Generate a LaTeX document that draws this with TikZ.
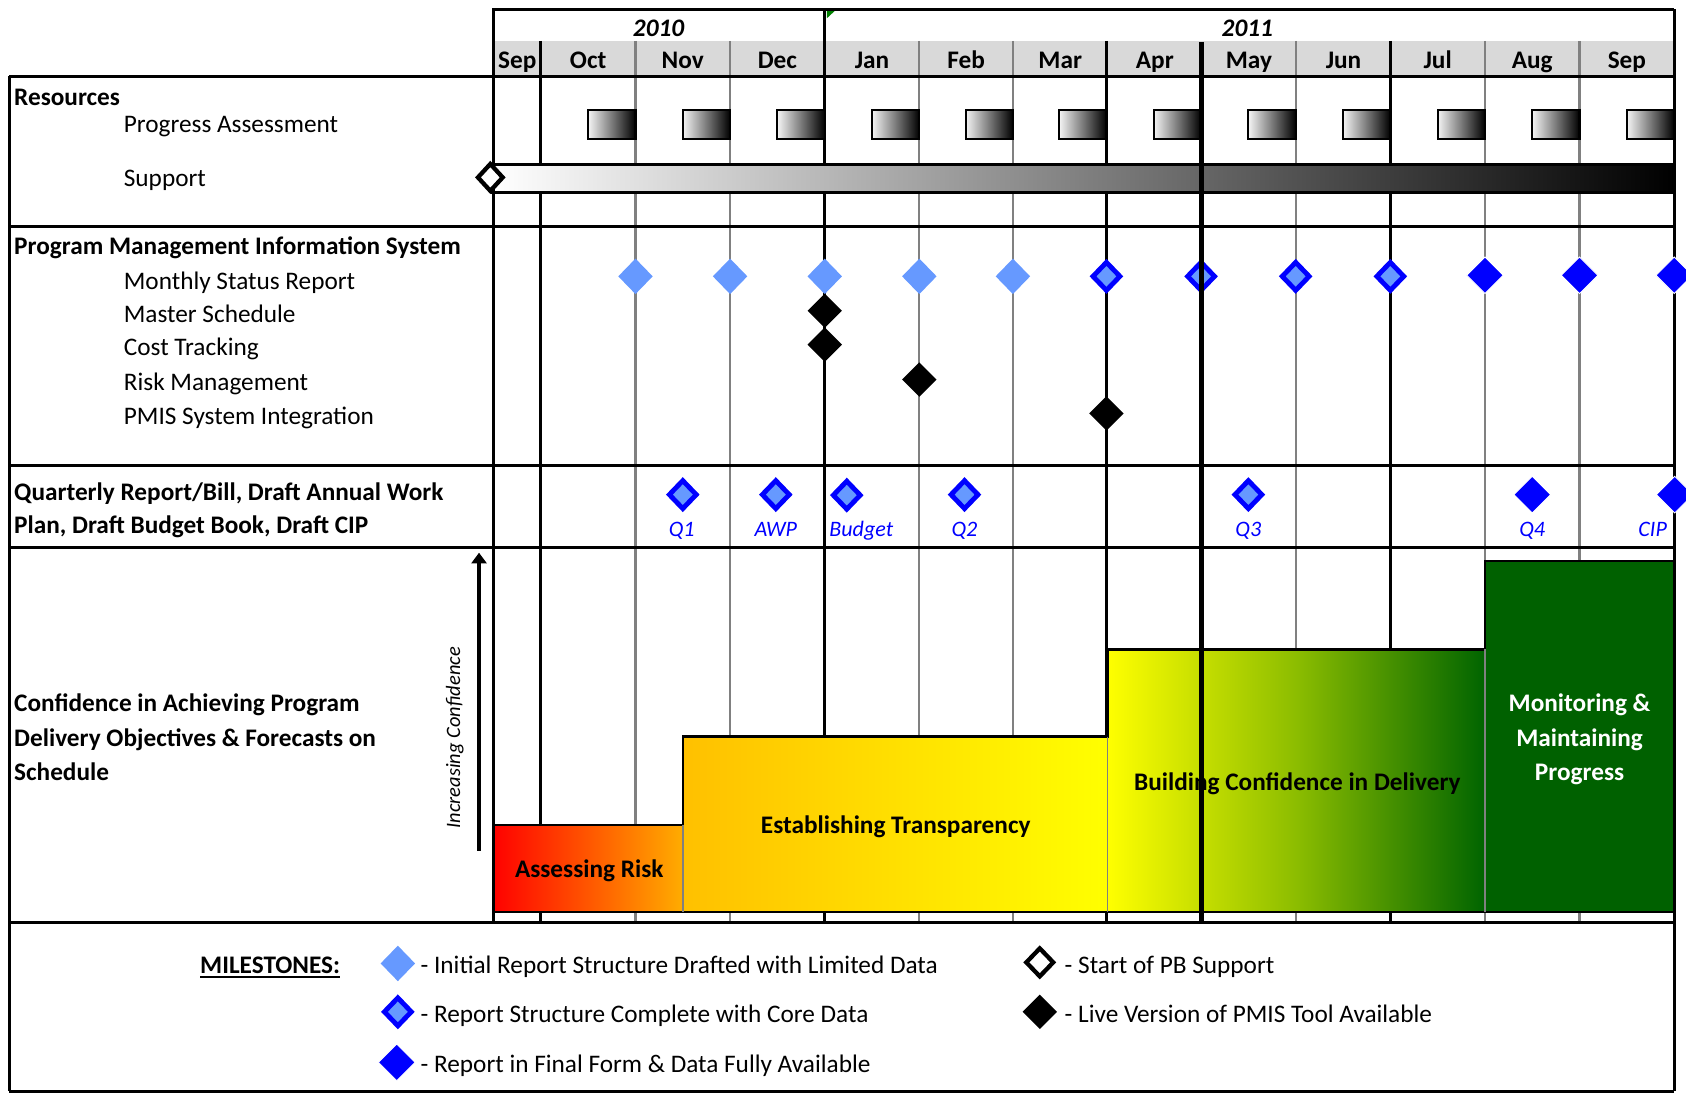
\documentclass[tikz,border=0pt]{standalone}
\usepackage{fontspec}
\setmainfont{Carlito}
\usetikzlibrary{shapes.geometric,arrows.meta}

\definecolor{hdrgray}{HTML}{D9D9D9}
\definecolor{gridgray}{HTML}{808080}
\definecolor{lightblue}{HTML}{6699FF}
\definecolor{mblue}{HTML}{0000FF}
\definecolor{dkgreen}{RGB}{0,97,0}
\definecolor{midgreen}{RGB}{0,100,0}
\definecolor{barlight}{HTML}{F4F4F4}
\definecolor{riskred}{RGB}{255,0,0}
\definecolor{riskorange}{RGB}{255,172,0}
\definecolor{transamber}{RGB}{255,192,0}
\definecolor{transyellow}{RGB}{255,255,0}
\definecolor{commentgreen}{RGB}{0,128,0}

\newcommand{\fszA}{\fontsize{23.5pt}{28pt}\selectfont}
\newcommand{\fszQ}{\fontsize{20.5pt}{24pt}\selectfont}
\newcommand{\fszI}{\fontsize{19pt}{22pt}\selectfont}

\tikzset{
  thickln/.style={line width=2.8pt, draw=black},
  gridln/.style={line width=2pt, draw=gridgray},
  todayln/.style={line width=5pt, draw=black},
  dia/.style={diamond, aspect=1, inner sep=0pt, outer sep=0pt},
  msA/.style={dia, fill=lightblue, minimum width=32pt, minimum height=33pt},
  msB/.style={dia, fill=lightblue, draw=mblue, line width=4.5pt, minimum width=25pt, minimum height=26pt},
  msC/.style={dia, fill=mblue, draw=white, line width=0.8pt, minimum width=34pt, minimum height=34pt},
  msK/.style={dia, fill=black, minimum width=32pt, minimum height=32pt},
  msW/.style={dia, fill=white, draw=black, line width=4pt, minimum width=23pt, minimum height=25pt},
  lbl/.style={font=\fszA, anchor=base west, inner sep=0pt},
  hd/.style={font=\fszA\bfseries, anchor=base west, inner sep=0pt},
  mon/.style={font=\fszA\bfseries, anchor=base, inner sep=0pt},
  yr/.style={font=\fszA\bfseries\itshape, anchor=base, inner sep=0pt},
  qlbl/.style={font=\fszQ\itshape, text=mblue, anchor=base, inner sep=0pt},
  pbar/.style={rectangle, draw=black, line width=2pt, left color=barlight, right color=black, inner sep=0pt, outer sep=0pt},
  phase/.style={rectangle, inner sep=0pt, outer sep=0pt, anchor=south west},
  phaselbl/.style={font=\fszA\bfseries, anchor=base, inner sep=0pt},
}

\begin{document}
\begin{tikzpicture}[x=1pt,y=-1pt]
\useasboundingbox[fill=white] (0,0) rectangle (1568,1017);

% month header background
\fill[hdrgray] (458,38) rectangle (1557,70.7);

% grid lines
\foreach \x in {591,679,855,942,1205,1381,1469}
  \draw[gridln] (\x,38) -- (\x,858);
\foreach \x in {503,1029,1293}
  \draw[thickln] (\x,38) -- (\x,858);
\draw[thickln] (767,8.7) -- (767,858);

% comment marker
\fill[commentgreen] (769,10) -- (776.5,10) -- (769,17) -- cycle;

% progress assessment bars
\foreach \x [count=\i] in {591,679,767,855,942,1029,1117,1205,1293,1381,1469,1557}
  \node[pbar, anchor=north east, minimum width=44pt, minimum height=27pt] (pb\i) at (\x,102.5) {};

% support bar
\node[pbar, anchor=north west, minimum width=1099pt, minimum height=26pt, left color=white] (supbar) at (458,153) {};

% phase boxes
\node[phase, left color=riskred, right color=riskorange, minimum width=177pt, minimum height=81pt] (riskbox) at (458,848) {};
\node[phase, left color=transamber, right color=transyellow, minimum width=395pt, minimum height=163pt] (transbox) at (635,848) {};
\node[phase, left color=transyellow, right color=midgreen, middle color={rgb,255:red,140;green,189;blue,0}, minimum width=351pt, minimum height=244pt] (buildbox) at (1030,848) {};
\node[phase, fill=dkgreen, minimum width=176pt, minimum height=326pt] (monbox) at (1381,848) {};

\draw[line width=2pt] (riskbox.north west) -- (riskbox.north east) -- (transbox.north west) -- (transbox.north east) -- (buildbox.north west) -- (buildbox.north east) -- (monbox.north west) -- (monbox.north east);
\draw[line width=2pt] (riskbox.south west) -- (monbox.south east);
\draw[gridgray, line width=1.5pt] (riskbox.north east) -- (riskbox.south east);
\draw[gridgray, line width=1.5pt] (transbox.north east) -- (transbox.south east);
\draw[gridgray, line width=1.5pt] (buildbox.north east) -- (buildbox.south east);

% phase labels
\node[phaselbl] (risklbl) at (548,816.5) {Assessing Risk};
\node[phaselbl] (translbl) at (833,775) {Establishing Transparency};
\node[phaselbl] (buildlbl) at (1206.5,735) {Building Confidence in Delivery};
\node[phaselbl, text=white] (monlbl1) at (1469,662) {Monitoring \&};
\node[phaselbl, text=white] (monlbl2) at (1469,694) {Maintaining};
\node[phaselbl, text=white] (monlbl3) at (1469,726) {Progress};

% frame lines
\draw[thickln] (458,8.7) -- (1557,8.7);
\foreach \y in {71,210.5,432.5,509.5,858}
  \draw[thickln] (8.7,\y) -- (1557,\y);
\draw[thickln] (8.7,1015) -- (1557,1015);
\draw[thickln] (8.7,71) -- (8.7,1015);
\draw[thickln] (458.5,8.7) -- (458.5,858);
\draw[thickln] (1557,8.7) -- (1557,1015);

% support start
\node[msW] (supstart) at (456,165) {};

% monthly status report diamonds
\foreach \x [count=\i] in {591,679,767,855,942}
  \node[msA] (msrA\i) at (\x,257) {};
\foreach \x [count=\i] in {1029,1117,1205,1293}
  \node[msB] (msrB\i) at (\x,257) {};
\foreach \x [count=\i] in {1381,1469,1557}
  \node[msC] (msrC\i) at (\x,256) {};

% PMIS tool diamonds
\node[msK] (dmsch) at (767,289) {};
\node[msK] (dct) at (767,320.5) {};
\node[msK] (drm) at (855,353) {};
\node[msK] (dpsi) at (1029,384.5) {};

% quarterly diamonds and labels
\node[msB] (dq1) at (635,460) {};
\node[msB] (dawp) at (721.5,460) {};
\node[msB] (dbud) at (787.5,460.5) {};
\node[msB] (dq2) at (897,460) {};
\node[msB] (dq3) at (1161,460) {};
\node[msC] (dq4) at (1425,460) {};
\node[msC] (dcip) at (1557.5,460) {};
\node[qlbl] (lq1) at (634,499) {Q1};
\node[qlbl] (lawp) at (721.5,499) {AWP};
\node[qlbl] (lbud) at (801,499) {Budget};
\node[qlbl] (lq2) at (897,499) {Q2};
\node[qlbl] (lq3) at (1161,499) {Q3};
\node[qlbl] (lq4) at (1425,499) {Q4};
\node[qlbl] (lcip) at (1537,499) {CIP};

% header labels
\node[yr] (y2010) at (612.5,33.5) {2010};
\node[yr] (y2011) at (1160,33.5) {2011};
\foreach \x/\m/\n in {481/Sep/mo0,547/Oct/mo1,635/Nov/mo2,723/Dec/mo3,811/Jan/mo4,898.5/Feb/mo5,986/Mar/mo6,1074/Apr/mo7,1161.5/May/mo8,1249.5/Jun/mo9,1337/Jul/mo10,1425/Aug/mo11,1513/Sep/mo12}
  \node[mon] (\n) at (\x,64) {\m};

% left column labels
\node[hd] (res) at (13,98) {Resources};
\node[lbl] (pa) at (115,123.5) {Progress Assessment};
\node[lbl] (sup) at (115,173.5) {Support};
\node[hd] (pmis) at (13,237) {Program Management Information System};
\node[lbl] (msr) at (115,269) {Monthly Status Report};
\node[lbl] (msch) at (115,300) {Master Schedule};
\node[lbl] (ct) at (115,331) {Cost Tracking};
\node[lbl] (rm) at (115,363) {Risk Management};
\node[lbl] (psi) at (115,395) {PMIS System Integration};
\node[hd] (qr1) at (13,465) {Quarterly Report/Bill, Draft Annual Work};
\node[hd] (qr2) at (13,496) {Plan, Draft Budget Book, Draft CIP};
\node[hd] (cf1) at (13,662) {Confidence in Achieving Program};
\node[hd] (cf2) at (13,694) {Delivery Objectives \& Forecasts on};
\node[hd] (cf3) at (13,726) {Schedule};

% confidence arrow
\coordinate (arrbot) at (445.5,791);
\coordinate (arrtop) at (445.5,514);
\draw[line width=3pt, -{Triangle[width=14pt,length=10pt]}] (arrbot) -- (arrtop);
\node[rotate=90, font=\fszI\itshape, inner sep=0pt] (incconf) at (423,686) {Increasing Confidence};

% legend
\node[hd] (mst) at (186,905.5) {MILESTONES:};
\draw[line width=1.6pt] ([yshift=-3pt]mst.base west) -- ([yshift=-3pt]mst.base east);
\node[msA] (legA) at (370,896) {};
\node[msB] (legB) at (370,941) {};
\node[msC] (legC) at (369,988) {};
\node[msW, minimum width=25pt, minimum height=26pt] (legW) at (967,895) {};
\node[msK] (legK) at (967,941) {};
\node[lbl] (ltA) at (391,905.5) {- Initial Report Structure Drafted with Limited Data};
\node[lbl] (ltB) at (391,951) {- Report Structure Complete with Core Data};
\node[lbl] (ltC) at (391,997) {- Report in Final Form \& Data Fully Available};
\node[lbl] (ltW) at (990,905.5) {- Start of PB Support};
\node[lbl] (ltK) at (990,951) {- Live Version of PMIS Tool Available};

% status date line on top
\draw[todayln] (1117.5,39) -- (1117.5,858);
\end{tikzpicture}
\end{document}
